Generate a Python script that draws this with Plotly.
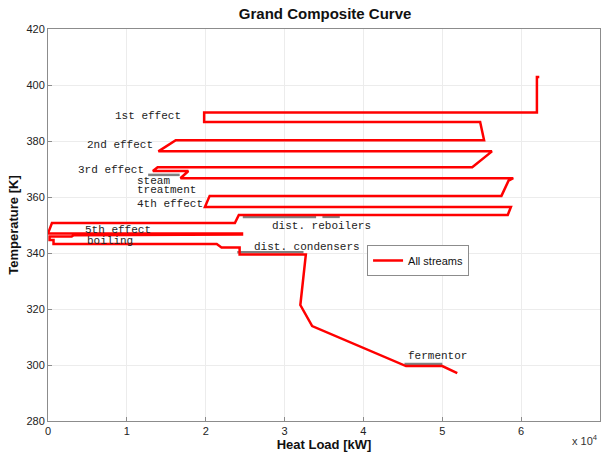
import plotly.graph_objects as go

# Grand composite curve (heat load in kW, temperature in K)
heat_load = [62300, 62000, 62000, 19800, 19800, 54800, 55300, 16200, 14000,
             56300, 53800, 13900, 13300, 17800, 16800, 59000, 58400, 57500,
             20500, 19900, 58700, 58300, 24200, 23700, 500, 0, 24600, 24600,
             3200, 3000, 200, 200, 700, 700, 21400, 22000, 24300, 24300,
             32700, 32000, 33500, 45400, 50000, 51900]
temperature = [402.9, 402.9, 390.2, 390.2, 386.8, 386.8, 380.3, 380.3, 376.3,
               376.3, 370.6, 370.6, 369.3, 369.3, 366.7, 366.7, 365.8, 360.4,
               360.4, 356.4, 356.4, 353.6, 353.6, 350.7, 350.7, 347.0, 347.0, 346.6,
               346.3, 345.9, 345.9, 344.6, 344.6, 343.2, 343.2, 342.0, 342.0, 339.5,
               339.5, 321.4, 313.9, 299.6, 299.6, 297.1]

series_name = "All streams"

# labels of the process units
label_texts = ["1st effect", "2nd effect", "3rd effect", "steam", "treatment",
               "4th effect", "dist. reboilers", "5th effect", "boiling",
               "dist. condensers", "fermentor"]
label_x = [8200, 4700, 3600, 11000, 11000, 11000, 28100, 4400, 4700, 25900, 45400]
label_y = [388.9, 378.6, 369.6, 365.7, 362.5, 357.4, 349.6, 348.2, 344.3, 342.1, 303.2]

# grey marker lines under some labels
marker_x = [[12700, 16700], [24700, 34000], [34800, 37000], [24000, 32400], [45200, 50000]]
marker_y = [[367.9, 367.9], [352.9, 352.9], [352.9, 352.9], [340.3, 340.3], [300.4, 300.4]]

x_tick_vals = [0, 10000, 20000, 30000, 40000, 50000, 60000, 70000]
x_tick_text = ["0", "1", "2", "3", "4", "5", "6", "7"]
y_tick_vals = [280, 300, 320, 340, 360, 380, 400, 420]

fig = go.Figure()

for mx, my in zip(marker_x, marker_y):
    fig.add_trace(go.Scatter(x=mx, y=my, mode="lines",
                             line=dict(color="#808080", width=2.5),
                             showlegend=False, hoverinfo="skip"))

fig.add_trace(go.Scatter(x=heat_load, y=temperature, mode="lines",
                         name=series_name,
                         line=dict(color="#ff0000", width=2.5)))

mono = "Liberation Mono, Courier New, monospace"
for t, lx, ly in zip(label_texts, label_x, label_y):
    fig.add_annotation(x=lx, y=ly, text=t, showarrow=False, xanchor="left",
                       yanchor="middle", align="left",
                       font=dict(family=mono, size=11, color="#222222"))

fig.add_annotation(xref="paper", yref="paper", x=1.0, y=-0.025,
                   text="x 10<sup>4</sup>", showarrow=False,
                   xanchor="right", yanchor="top",
                   font=dict(family="Liberation Sans, Arial", size=11, color="#333333"))

axis_common = dict(showline=True, linecolor="#8c8c8c", linewidth=1, mirror=True,
                   showgrid=True, gridcolor="#ececec", gridwidth=1,
                   zeroline=False, ticks="inside", ticklen=4, tickcolor="#8c8c8c",
                   tickfont=dict(family="Liberation Sans, Arial", size=11, color="#222222"))

fig.update_xaxes(range=[0, 70000], tickvals=x_tick_vals, ticktext=x_tick_text,
                 title=dict(text="<b>Heat Load [kW]</b>", standoff=0,
                            font=dict(family="Liberation Sans, Arial", size=13, color="#111111")),
                 **axis_common)
fig.update_yaxes(range=[280, 420], tickvals=y_tick_vals,
                 title=dict(text="<b>Temperature [K]</b>", standoff=4,
                            font=dict(family="Liberation Sans, Arial", size=13, color="#111111")),
                 **axis_common)

fig.update_layout(
    width=602, height=458,
    margin=dict(l=48, r=2, t=29, b=37),
    paper_bgcolor="white", plot_bgcolor="white",
    title=dict(text="<b>Grand Composite Curve</b>", x=0.54, xanchor="center",
               y=0.97, yanchor="middle",
               font=dict(family="Liberation Sans, Arial", size=15, color="#111111")),
    legend=dict(x=0.578, y=0.449, xanchor="left", yanchor="top",
                bgcolor="white", bordercolor="#8c8c8c", borderwidth=1,
                font=dict(family="Liberation Sans, Arial", size=11, color="#111111"),
                itemwidth=30, tracegroupgap=0),
    showlegend=True,
)

fig.write_html("out.html")
